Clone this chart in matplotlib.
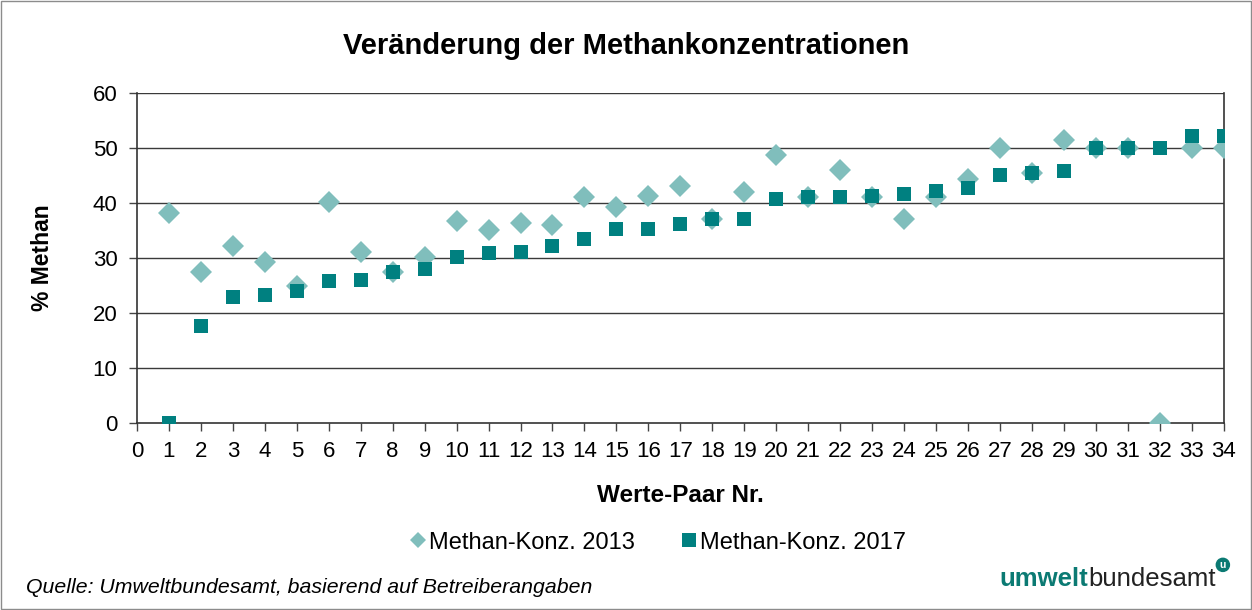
import matplotlib
matplotlib.use("Agg")
import matplotlib.pyplot as plt
from matplotlib.patches import Rectangle

plt.rcParams['font.family'] = ['Liberation Sans', 'DejaVu Sans']

pairs = list(range(1, 35))
konz_2013 = [38.1, 27.4, 32.1, 29.3, 24.9, 40.1, 31.0, 27.5, 30.1, 36.8,
             35.0, 36.4, 36.0, 41.0, 39.3, 41.3, 43.1, 37.0, 42.0, 48.8,
             41.0, 46.0, 41.1, 37.0, 41.0, 44.4, 50.0, 45.5, 51.4, 50.0,
             50.0, 0.0, 50.0, 50.0]
konz_2017 = [0.0, 17.6, 22.9, 23.3, 24.0, 25.9, 26.0, 27.5, 28.0, 30.2,
             30.9, 31.1, 32.2, 33.5, 35.2, 35.3, 36.1, 37.0, 37.0, 40.8,
             41.0, 41.0, 41.2, 41.7, 42.1, 42.8, 45.0, 45.5, 45.8, 50.0,
             50.0, 50.0, 52.2, 52.2]
labels = ["Methan-Konz. 2013", "Methan-Konz. 2017"]
xticks = list(range(0, 35))
yticks = [0, 10, 20, 30, 40, 50, 60]

c2013 = "#80BEBC"
c2017 = "#008080"
logo_teal = "#0b7a73"

fig = plt.figure(figsize=(12.52, 6.10), dpi=100)
fig.patches.append(Rectangle((0.001, 0.001), 0.998, 0.997, transform=fig.transFigure,
                             fill=False, edgecolor="#8c8c8c", linewidth=1.0))
ax = fig.add_axes([0.1094, 0.3066, 0.868, 0.541])

for y in yticks[1:]:
    ax.axhline(y, color="#3a3a3a", linewidth=1.0, zorder=1)

ax.plot(pairs, konz_2013, linestyle="none", marker="D", markersize=11,
        color=c2013, markeredgewidth=0, label=labels[0], zorder=3)
ax.plot(pairs, konz_2017, linestyle="none", marker="s", markersize=10.5,
        color=c2017, markeredgewidth=0, label=labels[1], zorder=4)

ax.set_xlim(0, 34)
ax.set_ylim(0, 60)
ax.set_xticks(xticks)
ax.set_yticks(yticks)
ax.tick_params(axis='both', direction='out', length=6, width=1, colors="#444444",
               labelsize=16, labelcolor="black")
ax.tick_params(axis='x', pad=7)
ax.tick_params(axis='y', pad=8)
for s in ax.spines.values():
    s.set_color("#333333")
    s.set_linewidth(1.2)
ax.spines['top'].set_visible(False)

ax.set_xlabel("Werte-Paar Nr.", fontsize=17.5, fontweight="bold", labelpad=16)
ax.set_ylabel("% Methan", fontsize=16.5, fontweight="bold", labelpad=28)

fig.text(0.5, 0.925, "Veränderung der Methankonzentrationen", ha="center", va="center",
         fontsize=21, fontweight="bold")

leg = ax.legend(loc="upper center", bbox_to_anchor=(0.48, -0.265), ncol=2, frameon=False,
                fontsize=17, handlelength=0.6, handletextpad=0.15, columnspacing=2.0)
for h, ms in zip(leg.legend_handles, [8.5, 10.5]):
    h.set_markersize(ms)

fig.text(0.021, 0.037, "Quelle: Umweltbundesamt, basierend auf Betreiberangaben",
         fontsize=15.3, style="italic", ha="left", va="center")

t1 = fig.text(0.798, 0.05, "umwelt", fontsize=18.5, fontweight="bold", color=logo_teal,
              ha="left", va="center")
fig.canvas.draw()
bb = t1.get_window_extent()
x2 = bb.x1 / fig.bbox.width
t2 = fig.text(x2, 0.05, "bundesamt", fontsize=18.5, color="#222222", ha="left", va="center")
fig.canvas.draw()
bb2 = t2.get_window_extent()
x3 = bb2.x1 / fig.bbox.width
fig.text(x3 + 0.006, 0.074, "u", fontsize=7.5, fontweight="bold", color="white",
         ha="center", va="center",
         bbox=dict(boxstyle="circle,pad=0.15", facecolor=logo_teal, edgecolor=logo_teal))

fig.savefig("out.png", dpi=100)
